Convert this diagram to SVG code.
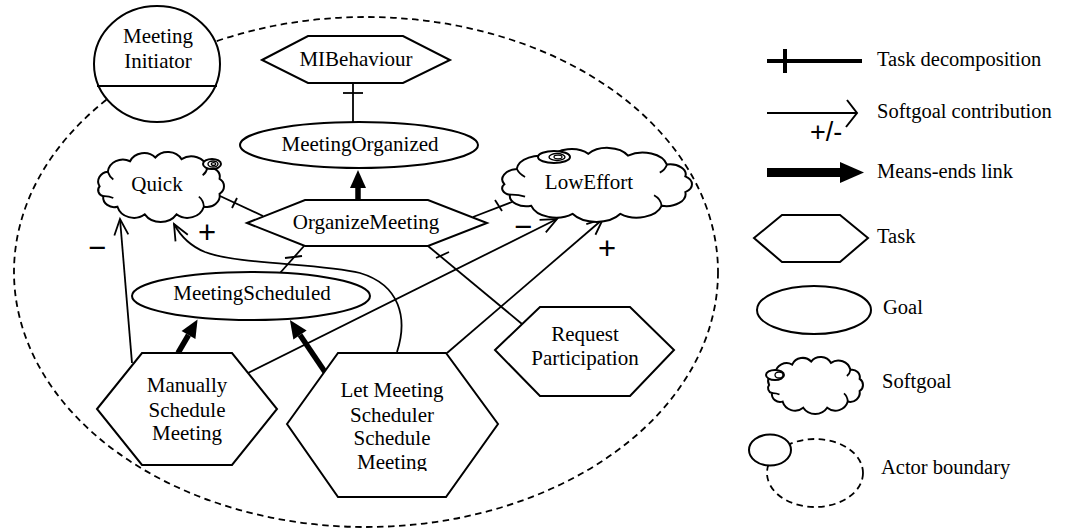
<svg xmlns="http://www.w3.org/2000/svg" xmlns:xlink="http://www.w3.org/1999/xlink" width="1065" height="529" viewBox="0 0 1065 529">
  <style>
    .shape { fill: #fff; stroke: #000; stroke-width: 2; }
    .cloud { fill: #fff; stroke: #000; stroke-width: 2; vector-effect: non-scaling-stroke; }
    .curl { fill: none; stroke: #000; stroke-width: 1.8; vector-effect: non-scaling-stroke; }
    .lbl { font-family: "Liberation Serif", "Times New Roman", serif; font-size: 21px; fill: #000; text-anchor: middle; }
    .leg { font-family: "Liberation Serif", "Times New Roman", serif; font-size: 20.5px; fill: #000; }
    .sign { font-family: "Liberation Sans", Arial, sans-serif; font-size: 31px; fill: #000; text-anchor: middle; }
    .link { fill: none; stroke: #000; stroke-width: 1.8; }
    .contrib { fill: none; stroke: #000; stroke-width: 1.8; marker-end: url(#open); }
    .means { fill: none; stroke: #000; stroke-width: 5.5; marker-end: url(#meansHead); }
    .bar { stroke: #000; stroke-width: 1.8; }
    .boundary { fill: none; stroke: #000; stroke-width: 1.8; stroke-dasharray: 6.5 4.5; }
  </style>
  <defs>
    <marker id="open" viewBox="-18 -9 20 18" markerWidth="20" markerHeight="18" refX="0" refY="0" orient="auto" markerUnits="userSpaceOnUse" overflow="visible">
      <path d="M-16,-7 L0,0 L-16,7" fill="none" stroke="#000" stroke-width="1.8"/>
    </marker>
    <marker id="meansHead" viewBox="0 -9 20 18" markerWidth="20" markerHeight="18" refX="0" refY="0" orient="auto" markerUnits="userSpaceOnUse" overflow="visible">
      <path d="M0,-8 L18,0 L0,8 z" fill="#000"/>
    </marker>
    <!-- unit softgoal cloud, roughly 9..91.5 x 6..57, with its inner curls -->
    <g id="cloud">
      <path class="cloud" d="M10,31 A7.1,7.1 0 0 1 15.4,20.5 A9.9,9.9 0 0 1 30,12.8 A10,10 0 0 1 46.5,10.1 A10.3,10.3 0 0 1 63.7,11.3 A10.8,10.8 0 0 1 80.6,17.5 A6.8,6.8 0 0 1 88.6,25.6 A6.5,6.5 0 0 1 88.6,36.4 A8.4,8.4 0 0 1 78.3,45.8 A11.2,11.2 0 0 1 60.4,51.3 A12.5,12.5 0 0 1 39.6,51.3 A11.2,11.2 0 0 1 21.7,45.8 A7.2,7.2 0 0 1 12.4,38.2 A4.6,4.6 0 0 1 10,31 Z"/>
      <path class="curl" d="M12.4,38.2 Q16,38 19,39.5"/>
      <path class="curl" d="M15.4,20.5 Q16.5,24 19,26"/>
      <path class="curl" d="M78.3,45.8 Q78,41 75,38.5"/>
      <path class="curl" d="M80.6,17.5 Q80,21 77.5,23"/>
    </g>
    <clipPath id="letClip"><rect x="280" y="340" width="230" height="131"/></clipPath>
  </defs>

  <rect width="1065" height="529" fill="#fff"/>

  <!-- actor boundary -->
  <g id="boundary">
    <ellipse class="boundary" cx="366" cy="272" rx="352" ry="255"/>
  </g>

  <!-- connectors -->
  <g id="connectors">
    <!-- task decompositions -->
    <line class="link" x1="353" y1="83" x2="353" y2="123"/>
    <line class="bar" x1="343" y1="93" x2="363" y2="93"/>
    <line class="link" x1="220" y1="196" x2="263" y2="216"/>
    <line class="bar" x1="232" y1="208" x2="237" y2="198"/>
    <line class="link" x1="473" y1="217" x2="512" y2="202"/>
    <line class="bar" x1="495" y1="200" x2="502" y2="211"/>
    <line class="link" x1="304" y1="246" x2="280" y2="273"/>
    <line class="bar" x1="285" y1="258" x2="302" y2="256"/>
    <line class="link" x1="428" y1="246" x2="522" y2="324"/>
    <line class="bar" x1="436" y1="258" x2="449" y2="252"/>

    <!-- means-ends links -->
    <line class="means" x1="358" y1="200" x2="358" y2="188"/>
    <line class="means" x1="178" y1="353" x2="188.5" y2="335"/>
    <line class="means" x1="325" y1="372" x2="300" y2="335"/>

    <!-- softgoal contributions -->
    <line class="contrib" x1="132" y1="363" x2="120" y2="219"/>
    <path class="contrib" d="M397,352 C408,318 400,285 360,273 C320,263 240,265 205,252 C190,246 180,235 174,224"/>
    <line class="contrib" x1="248" y1="373" x2="557" y2="219"/>
    <line class="contrib" x1="447" y1="353" x2="603" y2="219"/>

    <text class="sign" x="97" y="258">−</text>
    <text class="sign" x="207" y="243">+</text>
    <text class="sign" x="523" y="237">−</text>
    <text class="sign" x="607" y="259">+</text>
  </g>

  <g id="actor">
    <ellipse class="shape" cx="157" cy="64" rx="63" ry="58"/>
    <line class="bar" stroke-width="2" x1="97" y1="86" x2="217" y2="86"/>
    <text class="lbl" x="158" y="43">Meeting</text>
    <text class="lbl" x="158" y="68">Initiator</text>
  </g>

  <g id="mibehaviour">
    <polygon class="shape" points="262,60 308,36 403,36 450,60 403,83 308,83"/>
    <text class="lbl" x="356" y="66">MIBehaviour</text>
  </g>

  <g id="meetingOrganized">
    <ellipse class="shape" cx="359" cy="145" rx="119" ry="23"/>
    <text class="lbl" x="360" y="151">MeetingOrganized</text>
  </g>

  <g id="quick">
    <use xlink:href="#cloud" transform="translate(84.3,143.6) scale(1.527,1.378)"/>
    <ellipse class="shape" stroke-width="1.6" cx="212" cy="164" rx="9" ry="5"/>
    <ellipse fill="none" stroke="#000" stroke-width="1.4" cx="213" cy="164" rx="5" ry="3"/>
    <ellipse fill="none" stroke="#000" stroke-width="1.2" cx="213.5" cy="164" rx="2.2" ry="1.4"/>
    <text class="lbl" x="157" y="191">Quick</text>
  </g>

  <g id="lowEffort">
    <use xlink:href="#cloud" transform="translate(481.3,139.1) scale(2.303,1.457)"/>
    <ellipse class="shape" stroke-width="1.6" cx="554" cy="157" rx="16" ry="6"/>
    <ellipse fill="none" stroke="#000" stroke-width="1.4" cx="557" cy="157" rx="8" ry="3.5"/>
    <ellipse fill="none" stroke="#000" stroke-width="1.2" cx="558" cy="157" rx="4" ry="1.8"/>
    <text class="lbl" x="589" y="189">LowEffort</text>
  </g>

  <g id="organizeMeeting">
    <polygon class="shape" points="247,223 305,200 428,200 487,223 428,246 305,246"/>
    <text class="lbl" x="366" y="229">OrganizeMeeting</text>
  </g>

  <g id="meetingScheduled">
    <ellipse class="shape" cx="251" cy="296" rx="119" ry="24"/>
    <text class="lbl" x="252" y="300">MeetingScheduled</text>
  </g>

  <g id="requestParticipation">
    <polygon class="shape" points="495,350 540,307 630,307 674,350 630,396 540,396"/>
    <text class="lbl" x="585" y="341">Request</text>
    <text class="lbl" x="585" y="365">Participation</text>
  </g>

  <g id="manuallySchedule">
    <polygon class="shape" points="97,409 142,353 232,353 277,409 232,465 142,465"/>
    <text class="lbl" x="187" y="392">Manually</text>
    <text class="lbl" x="187" y="417">Schedule</text>
    <text class="lbl" x="187" y="440">Meeting</text>
  </g>

  <g id="letSchedulerSchedule">
    <polygon class="shape" points="287,424 338,353 446,353 498,424 446,497 338,497"/>
    <g clip-path="url(#letClip)">
      <text class="lbl" x="392" y="397">Let Meeting</text>
      <text class="lbl" x="392" y="422">Scheduler</text>
      <text class="lbl" x="392" y="445">Schedule</text>
      <text class="lbl" x="392" y="469">Meeting</text>
    </g>
  </g>

  <!-- legend -->
  <g id="legend">
    <line stroke="#000" stroke-width="4" x1="767" y1="61" x2="862" y2="61"/>
    <line stroke="#000" stroke-width="4" x1="785" y1="49" x2="785" y2="73"/>
    <text class="leg" x="877" y="66">Task decomposition</text>

    <line stroke="#000" stroke-width="2" x1="767" y1="113" x2="856" y2="113"/>
    <path d="M847,100 L857,113 L846,127" fill="none" stroke="#000" stroke-width="2"/>
    <text font-family="Liberation Sans, Arial, sans-serif" font-size="27" x="810" y="141">+/-</text>
    <text class="leg" x="877" y="118">Softgoal contribution</text>

    <rect x="767" y="168" width="74" height="9" fill="#000"/>
    <polygon points="840,162 840,183 864,172.5" fill="#000"/>
    <text class="leg" x="877" y="178">Means-ends link</text>

    <polygon class="shape" points="754,238 782,215 840,215 868,238 840,262 782,262"/>
    <text class="leg" x="877" y="243">Task</text>

    <ellipse class="shape" cx="814" cy="310" rx="57" ry="24"/>
    <text class="leg" x="883" y="314">Goal</text>

    <use xlink:href="#cloud" transform="translate(757.6,350.2) scale(1.152,1.122)"/>
    <ellipse class="shape" stroke-width="1.6" cx="775" cy="375" rx="9" ry="5"/>
    <ellipse fill="none" stroke="#000" stroke-width="1.3" cx="779" cy="375" rx="4" ry="3"/>
    <text class="leg" x="882" y="388">Softgoal</text>

    <ellipse class="boundary" cx="815" cy="473" rx="48" ry="34"/>
    <ellipse class="shape" cx="770" cy="450" rx="21" ry="15.5"/>
    <text class="leg" x="881" y="474">Actor boundary</text>
  </g>
</svg>
